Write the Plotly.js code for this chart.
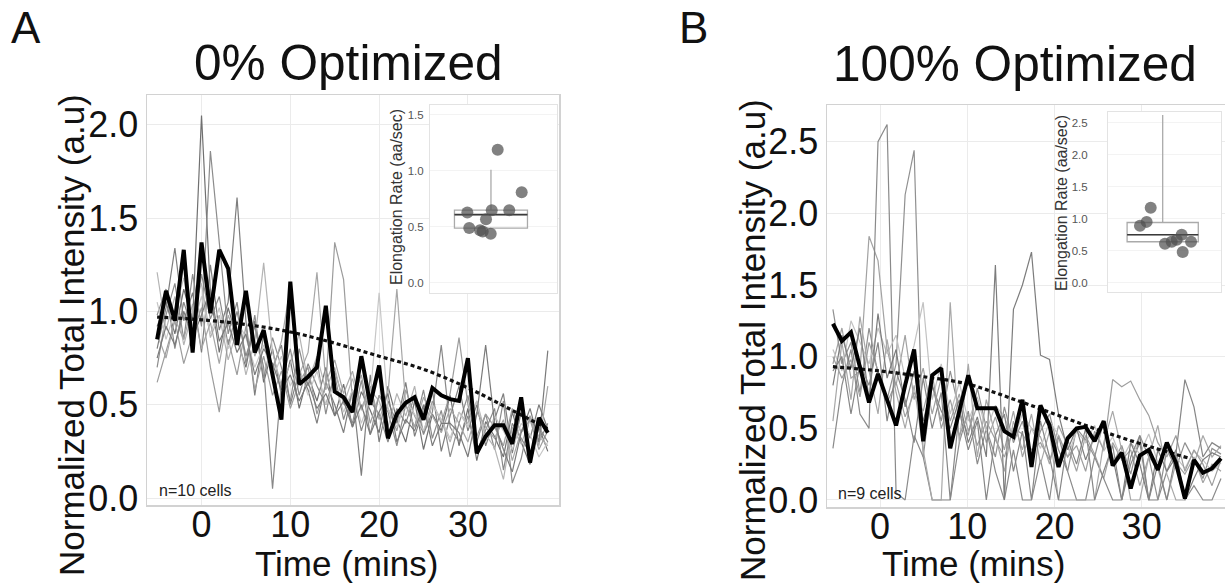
<!DOCTYPE html>
<html><head><meta charset="utf-8">
<script src="https://cdn.plot.ly/plotly-3.0.1.min.js"></script>
<style>html,body{margin:0;padding:0;background:#fff}#chart{width:1225px;height:584px}</style>
</head><body><div id="chart"></div>
<script>
// ---------- Panel A (0% Optimized) ----------
const timeA = [-5,-4,-3,-2,-1,0,1,2,3,4,5,6,7,8,9,10,11,12,13,14,15,16,17,18,19,20,21,22,23,24,25,26,27,28,29,30,31,32,33,34,35,36,37,38,39];
const cellA1 = [0.92,1.05,0.88,1.12,0.95,2.05,1.10,0.78,1.02,0.85,0.70,0.95,0.62,0.80,0.55,0.74,0.48,0.66,0.52,0.70,0.44,0.61,0.38,0.57,0.47,0.35,0.60,0.42,0.30,0.52,0.26,0.45,0.36,0.55,0.28,0.48,0.20,0.41,0.33,0.22,0.46,0.30,0.18,0.38,0.25];
const cellA2 = [0.70,0.98,1.15,0.85,1.20,0.92,1.86,1.35,0.88,1.05,0.72,0.98,0.64,0.86,0.70,0.52,0.80,0.60,0.74,0.45,0.68,0.52,0.40,0.63,0.34,0.55,0.46,0.28,0.50,0.38,0.58,0.32,0.47,0.22,0.40,0.55,0.30,0.45,0.26,0.52,0.08,0.21,0.44,0.30,0.40];
const cellA3 = [0.80,1.02,1.34,0.95,1.10,0.78,1.25,0.90,1.05,1.61,0.95,0.55,0.88,0.70,0.82,0.50,0.68,0.58,0.40,0.62,0.50,0.35,0.58,0.12,0.66,0.30,0.52,0.40,0.62,0.33,0.48,0.58,0.25,0.44,0.60,0.36,0.50,0.28,0.42,0.56,0.24,0.46,0.32,0.50,0.37];
const cellA4 = [1.21,0.90,1.08,0.82,1.00,1.15,0.86,0.98,0.74,0.90,0.66,0.84,1.26,0.78,0.60,0.72,0.88,0.62,0.76,0.58,0.70,0.50,0.64,0.47,0.58,0.52,0.38,0.56,0.44,0.60,0.35,0.50,0.42,0.30,0.46,0.40,0.52,0.34,0.27,0.10,0.38,0.29,0.42,0.33,0.28];
const cellA5 = [0.62,0.78,0.95,0.72,0.88,1.02,0.70,0.46,0.85,0.66,0.92,0.58,0.76,0.55,0.68,0.48,0.62,0.70,0.45,0.60,1.37,1.17,0.52,0.66,0.40,0.55,0.48,0.36,0.58,0.44,0.35,0.52,0.40,0.56,0.86,0.50,0.33,0.45,0.38,0.28,0.48,0.35,0.42,0.26,0.36];
const cellA6 = [0.98,1.12,0.80,1.05,0.90,1.20,0.96,1.08,0.82,1.00,0.76,0.92,0.70,0.05,0.62,0.80,0.55,0.72,0.60,0.50,0.66,0.42,0.58,0.36,0.52,0.45,0.30,0.48,0.40,0.55,0.34,0.46,0.82,0.38,0.30,0.44,0.25,0.36,0.48,0.15,0.40,0.32,0.24,0.38,0.30];
const cellA7 = [1.05,0.85,1.00,1.18,0.92,1.08,0.88,1.02,0.80,0.95,0.86,0.70,0.82,0.64,0.76,0.60,0.70,0.55,0.68,0.50,0.62,0.46,0.58,0.40,0.54,1.10,0.48,0.38,0.52,0.45,0.36,0.50,0.42,0.32,0.46,0.38,0.52,0.30,0.44,0.36,0.26,0.40,0.34,0.22,0.30];
const cellA8 = [0.88,0.75,0.96,0.85,1.04,0.80,0.94,0.72,0.98,0.86,1.08,0.76,0.90,0.68,0.84,1.13,0.66,0.78,1.21,0.62,0.74,0.56,0.68,0.48,0.60,0.42,0.56,1.12,0.50,0.38,0.54,0.44,0.35,0.48,0.40,0.30,0.46,0.38,0.32,0.42,0.20,0.36,0.44,0.28,0.60];
const cellA9 = [0.75,0.92,0.82,1.00,0.86,0.98,1.12,0.84,0.94,0.78,0.88,0.66,0.80,0.72,0.58,0.66,0.52,0.62,0.48,0.56,0.44,0.52,0.38,0.50,0.34,0.46,0.56,0.30,0.42,0.36,0.50,0.28,0.40,0.40,0.35,0.22,0.45,0.82,0.40,0.26,0.14,0.35,0.48,0.30,0.79];
const highlightA = [0.85,1.11,0.95,1.33,0.78,1.37,0.99,1.33,1.23,0.82,1.11,0.78,0.90,0.66,0.42,1.16,0.61,0.65,0.70,1.03,0.57,0.54,0.46,0.76,0.50,0.71,0.32,0.45,0.51,0.54,0.42,0.59,0.55,0.53,0.52,0.75,0.24,0.33,0.39,0.39,0.29,0.54,0.19,0.43,0.35];
const fitTimeA = [-5,0,5,10,15,20,25,30,35,39];
const fitA = [0.97,0.955,0.93,0.89,0.83,0.76,0.69,0.59,0.47,0.37];
const rateA = [1.19,0.81,0.63,0.65,0.65,0.57,0.49,0.47,0.46,0.44];
const boxStatsA = {q1:[0.49], median:[0.61], q3:[0.65], lowerfence:[0.49], upperfence:[1.01]};

// ---------- Panel B (100% Optimized) ----------
const timeB = [-5.4,-4.37,-3.33,-2.3,-1.26,-0.23,0.81,1.84,2.88,3.91,4.95,5.98,7.02,8.05,9.09,10.12,11.16,12.19,13.23,14.26,15.3,16.33,17.37,18.4,19.44,20.47,21.51,22.54,23.58,24.61,25.65,26.68,27.72,28.75,29.79,30.82,31.86,32.89,33.93,34.96,36.0,37.03,38.07,39.1];
const cellB1 = [0.95,1.20,0.85,0.90,1.84,1.67,1.05,0.80,1.15,0.70,0.92,0.60,0.85,0.55,0.74,0.48,0.66,0.40,0.58,0.35,0.62,0.30,0.50,0.44,0.25,0.52,0.38,0.20,0.45,0.32,0.15,0.40,0.28,0.35,0.10,0.30,0.22,0.00,0.26,0.18,0.30,0.12,0.25,0.20];
const cellB2 = [0.36,0.80,1.05,0.60,0.50,2.50,2.62,0.05,0.00,0.45,0.30,0.00,0.00,0.00,0.40,0.62,0.25,0.50,0.20,0.00,0.35,0.00,0.00,0.28,0.00,0.45,0.20,0.00,0.00,0.30,0.15,0.00,0.00,0.25,0.40,0.00,0.00,0.20,0.35,0.00,0.10,0.00,0.00,0.15];
const cellB3 = [1.33,0.95,1.10,0.75,1.20,0.88,0.70,0.95,2.13,2.44,0.30,0.80,0.55,0.90,0.62,0.45,0.78,0.50,0.30,0.65,0.40,0.55,0.28,0.48,0.60,0.35,0.20,0.50,0.42,0.30,0.55,0.25,0.38,0.18,0.45,0.30,0.00,0.35,0.22,0.40,0.28,0.15,0.36,0.32];
const cellB4 = [1.05,0.90,1.25,1.10,0.95,1.20,1.02,1.15,0.85,1.08,1.38,0.70,0.95,0.60,0.82,0.55,0.72,0.48,0.66,0.58,0.42,0.60,0.50,0.36,0.55,0.45,0.30,0.48,0.40,0.52,0.34,0.44,0.28,0.40,0.32,0.46,0.26,0.36,0.30,0.22,0.34,0.28,0.20,0.26];
const cellB5 = [0.55,1.10,0.70,1.28,0.90,0.60,1.12,0.75,0.50,0.80,0.35,0.00,0.00,1.38,0.40,0.95,0.30,0.70,0.45,0.20,0.55,0.35,0.60,0.25,0.48,0.00,0.00,0.00,0.00,0.00,0.40,0.62,0.35,0.00,0.00,0.30,0.52,0.18,0.00,0.00,0.25,0.45,0.30,0.38];
const cellB6 = [0.80,1.15,0.92,1.20,0.70,1.30,0.85,1.05,0.65,0.90,0.55,0.80,0.62,0.50,0.70,0.40,0.58,0.30,1.64,0.00,1.33,1.50,1.73,1.01,0.98,0.60,0.35,0.50,0.28,0.45,0.55,0.30,0.00,0.40,0.25,0.00,0.35,0.20,0.30,0.00,0.15,0.28,0.33,0.30];
const cellB7 = [1.00,0.85,0.98,0.72,1.10,0.90,0.68,0.82,0.58,0.75,0.62,0.88,0.50,0.70,0.45,0.60,0.38,0.55,0.42,0.30,0.50,0.46,0.35,0.40,0.28,0.45,0.30,0.38,0.20,0.48,0.35,0.84,0.79,0.83,0.70,0.59,0.40,0.30,0.45,0.20,0.35,0.25,0.10,0.28];
const cellB8 = [0.90,1.00,0.60,0.95,0.80,1.10,0.55,0.90,0.70,0.40,0.85,0.50,0.75,0.00,0.62,0.35,0.55,0.00,0.45,0.60,0.20,0.48,0.00,0.55,0.30,0.00,0.42,0.25,0.50,0.00,0.20,0.38,0.00,0.30,0.45,0.00,0.25,0.00,0.32,0.84,0.65,0.30,0.40,0.36];
const highlightB = [1.23,1.11,1.17,0.93,0.68,0.88,0.70,0.52,0.80,1.05,0.41,0.87,0.92,0.36,0.62,0.87,0.64,0.64,0.64,0.48,0.44,0.70,0.23,0.66,0.52,0.23,0.43,0.50,0.51,0.41,0.55,0.24,0.33,0.08,0.31,0.35,0.21,0.40,0.26,0.01,0.28,0.19,0.22,0.29];
const fitTimeB = [-5.4,0,5,10,15,20,25,30,35.5];
const fitB = [0.93,0.90,0.86,0.81,0.71,0.60,0.49,0.39,0.29];
const rateB = [1.17,0.95,0.89,0.75,0.67,0.64,0.61,0.48,0.64];
const boxStatsB = {q1:[0.64], median:[0.75], q3:[0.94], lowerfence:[0.64], upperfence:[2.62]};

// tick labels
const mainTicksX = [0,10,20,30];
const ticksYA = [0,0.5,1,1.5,2];
const ticksYB = [0,0.5,1,1.5,2,2.5];
const insetTicksA = [0,0.5,1,1.5];
const insetTicksB = [0,0.5,1,1.5,2,2.5];

// ---------- styles / positions ----------
const W = 1225, H = 584;
const px = v => v / W, py = v => 1 - v / H;
const FONT = '"Liberation Sans", Arial, Helvetica, sans-serif';
const grayA = ['#707070','#8c8c8c','#7e7e7e','#b4b4b4','#9c9c9c','#888888','#c6c6c6','#a6a6a6','#7a7a7a'];
const grayB = ['#a2a2a2','#8a8a8a','#909090','#c2c2c2','#a8a8a8','#7c7c7c','#9e9e9e','#868686'];
const jitterA = [0.533,0.722,0.294,0.486,0.624,0.441,0.309,0.394,0.415,0.478];
const jitterB = [0.378,0.342,0.283,0.652,0.608,0.735,0.504,0.661,0.564];
const boxPosA = 0.48, boxWidthA = 0.575;
const boxPosB = 0.484, boxWidthB = 0.63;

const traces = [];
[cellA1,cellA2,cellA3,cellA4,cellA5,cellA6,cellA7,cellA8,cellA9].forEach((c,i)=>{
  traces.push({x:timeA, y:c, xaxis:'x', yaxis:'y', type:'scatter', mode:'lines',
    line:{color:grayA[i], width:1.2}, hoverinfo:'skip', showlegend:false});
});
traces.push({x:fitTimeA, y:fitA, xaxis:'x', yaxis:'y', type:'scatter', mode:'lines',
  line:{color:'#111', width:3.2, dash:'4px,3px', shape:'spline'}, showlegend:false});
traces.push({x:timeA, y:highlightA, xaxis:'x', yaxis:'y', type:'scatter', mode:'lines',
  line:{color:'#000', width:4}, showlegend:false});

[cellB1,cellB2,cellB3,cellB4,cellB5,cellB6,cellB7,cellB8].forEach((c,i)=>{
  traces.push({x:timeB, y:c, xaxis:'x2', yaxis:'y2', type:'scatter', mode:'lines',
    line:{color:grayB[i], width:1.2}, hoverinfo:'skip', showlegend:false});
});
traces.push({x:fitTimeB, y:fitB, xaxis:'x2', yaxis:'y2', type:'scatter', mode:'lines',
  line:{color:'#111', width:3.2, dash:'4px,3px', shape:'spline'}, showlegend:false});
traces.push({x:timeB, y:highlightB, xaxis:'x2', yaxis:'y2', type:'scatter', mode:'lines',
  line:{color:'#000', width:4}, showlegend:false});

function insetTraces(stats, pos, width, rates, jit, xa, ya){
  return [
    {type:'box', x:[pos], q1:stats.q1, median:stats.median, q3:stats.q3,
     lowerfence:stats.lowerfence, upperfence:stats.upperfence, width:width, whiskerwidth:0,
     xaxis:xa, yaxis:ya, line:{color:'#aaaaaa', width:1.3}, fillcolor:'rgba(255,255,255,0)',
     boxpoints:false, hoverinfo:'skip', showlegend:false},
    {type:'scatter', mode:'lines', x:[pos-width/2, pos+width/2], y:[stats.median[0], stats.median[0]],
     xaxis:xa, yaxis:ya, line:{color:'#3a3a3a', width:1.6}, hoverinfo:'skip', showlegend:false},
    {type:'scatter', mode:'markers', x:jit, y:rates, xaxis:xa, yaxis:ya,
     marker:{size:12, color:'rgba(80,80,80,0.72)', line:{width:0}}, showlegend:false}
  ];
}
traces.push(...insetTraces(boxStatsA, boxPosA, boxWidthA, rateA, jitterA, 'x3', 'y3'));
traces.push(...insetTraces(boxStatsB, boxPosB, boxWidthB, rateB, jitterB, 'x4', 'y4'));

const mainAxis = {
  showgrid:true, gridcolor:'#ebebeb', gridwidth:1, zeroline:false,
  showline:true, linecolor:'#d2d2d2', linewidth:1.5, ticks:'',
  tickfont:{family:FONT, size:36, color:'#111'}, fixedrange:true
};
const insetY = {
  showgrid:true, gridcolor:'#f3f3f3', zeroline:false, showline:true, mirror:true,
  linecolor:'#e3e3e3', linewidth:1, ticks:'', tickformat:'.1f',
  tickfont:{family:FONT, size:11.5, color:'#555'}, fixedrange:true
};
const insetX = {
  showgrid:false, zeroline:false, showline:true, mirror:true, linecolor:'#e3e3e3',
  linewidth:1, showticklabels:false, ticks:'', range:[0,1], fixedrange:true
};

const layout = {
  width:W, height:H, margin:{l:0,r:0,t:0,b:0}, paper_bgcolor:'#fff', plot_bgcolor:'#fff',
  showlegend:false, font:{family:FONT, color:'#111'},
  xaxis: Object.assign({}, mainAxis, {domain:[px(147),px(559)], range:[-6.14,40.26], tickvals:mainTicksX, mirror:true, anchor:'y', ticklabelstandoff:-13}),
  yaxis: Object.assign({}, mainAxis, {domain:[py(505),py(95)], range:[-0.0375,2.16], tickvals:ticksYA, tickformat:'.1f', mirror:true, anchor:'x'}),
  xaxis2: Object.assign({}, mainAxis, {domain:[px(827),1], range:[-6.08,39.56], tickvals:mainTicksX, mirror:true, anchor:'y2', ticklabelstandoff:-13}),
  yaxis2: Object.assign({}, mainAxis, {domain:[py(507),py(105)], range:[-0.049,2.756], tickvals:ticksYB, tickformat:'.1f', mirror:false, anchor:'x2'}),
  xaxis3: Object.assign({}, insetX, {domain:[px(430),px(557)], anchor:'y3'}),
  yaxis3: Object.assign({}, insetY, {domain:[py(293.3),py(105)], range:[-0.092,1.589], tickvals:insetTicksA, anchor:'x3', ticklabelstandoff:3}),
  xaxis4: Object.assign({}, insetX, {domain:[px(1108),px(1221)], anchor:'y4'}),
  yaxis4: Object.assign({}, insetY, {domain:[py(291.7),py(111.7)], range:[-0.14,2.67], tickvals:insetTicksB, anchor:'x4', ticklabelstandoff:17}),
  annotations: [
    {text:'A', x:px(26), y:py(28), size:44},
    {text:'B', x:px(693), y:py(28), size:44},
    {text:'0% Optimized', x:px(348), y:py(63), size:49.6},
    {text:'100% Optimized', x:px(1015), y:py(64), size:49.6},
    {text:'Normalized Total Intensity (a.u)', x:px(71), y:py(335), size:35, angle:-90},
    {text:'Normalized Total Intensity (a.u)', x:px(752), y:py(340), size:35, angle:-90},
    {text:'Time (mins)', x:px(346), y:py(563), size:35},
    {text:'Time (mins)', x:px(973), y:py(563), size:35},
    {text:'Elongation Rate (aa/sec)', x:px(397), y:py(197), size:16, angle:-90, color:'#333'},
    {text:'Elongation Rate (aa/sec)', x:px(1061), y:py(203), size:16, angle:-90, color:'#333'},
    {text:'n=10 cells', x:px(157), y:py(490), size:16, anchor:'left', color:'#222'},
    {text:'n=9 cells', x:px(836), y:py(493), size:16, anchor:'left', color:'#222'}
  ].map(a => ({
    text:a.text, x:a.x, y:a.y, xref:'paper', yref:'paper', showarrow:false,
    xanchor:a.anchor || 'center', yanchor:'middle', textangle:a.angle || 0,
    font:{family:FONT, size:a.size, color:a.color || '#111'}
  }))
};

Plotly.newPlot('chart', traces, layout, {staticPlot:true, displayModeBar:false});
</script>
</body></html>
